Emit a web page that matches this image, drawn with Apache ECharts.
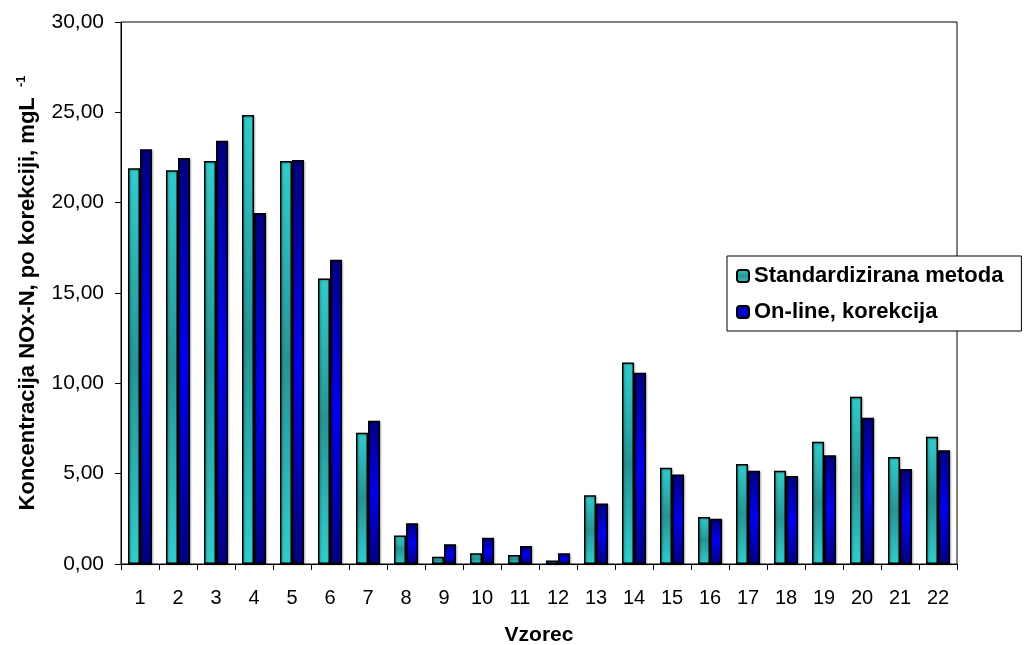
<!DOCTYPE html>
<html>
<head>
<meta charset="utf-8">
<script src="https://cdn.jsdelivr.net/npm/echarts@6/dist/echarts.min.js"></script>
<style>
  html, body { margin: 0; padding: 0; background: #fff; }
  #chart { width: 1024px; height: 645px; }
</style>
</head>
<body>
<div id="chart"></div>
<script>
// Sample numbers (Vzorec)
const categories = ['1','2','3','4','5','6','7','8','9','10','11','12','13','14','15','16','17','18','19','20','21','22'];

// NOx-N concentration, mg/L
const standardizirana = [21.9, 21.8, 22.3, 24.85, 22.3, 15.8, 7.27, 1.58, 0.4, 0.6, 0.5, 0.2, 3.8, 11.15, 5.33, 2.6, 5.53, 5.16, 6.77, 9.26, 5.92, 7.04];
const onlineKorekcija = [22.95, 22.47, 23.43, 19.43, 22.36, 16.84, 7.93, 2.26, 1.1, 1.45, 1.0, 0.6, 3.35, 10.59, 4.96, 2.51, 5.16, 4.87, 6.02, 8.1, 5.26, 6.29];

const seriesNames = ['Standardizirana metoda', 'On-line, korekcija'];

const FONT = '"Liberation Sans", Arial, sans-serif';

// light edges, darker centre
function centreGradient(edge, centre) {
  return new echarts.graphic.LinearGradient(0, 0, 0, 1, [
    { offset: 0, color: edge },
    { offset: 0.5, color: centre },
    { offset: 1, color: edge }
  ]);
}

const chart = echarts.init(document.getElementById('chart'), null, { renderer: 'canvas' });

const barStyle = {
  borderColor: '#000',
  borderWidth: 1.5,
  shadowColor: 'rgba(0,0,0,0.3)',
  shadowBlur: 2,
  shadowOffsetX: 1,
  shadowOffsetY: 1
};

chart.setOption({
  backgroundColor: '#fff',
  animation: false,
  grid: {
    left: 121,
    right: 67,
    top: 22,
    bottom: 81,
    containLabel: false,
    outerBoundsMode: 'none',
    show: true,
    borderColor: '#000',
    borderWidth: 1,
    backgroundColor: 'transparent'
  },
  legend: {
    orient: 'vertical',
    left: 727,
    top: 256,
    itemWidth: 12,
    itemHeight: 12,
    itemGap: 14,
    padding: [9, 18, 8, 9],
    backgroundColor: '#fff',
    borderColor: '#000',
    borderWidth: 1,
    z: 10,
    textStyle: { fontFamily: FONT, fontSize: 22, fontWeight: 'bold', color: '#000' },
    data: seriesNames
  },
  xAxis: {
    type: 'category',
    data: categories,
    boundaryGap: true,
    name: 'Vzorec',
    nameLocation: 'middle',
    nameGap: 61,
    nameTextStyle: { fontFamily: FONT, fontSize: 21, fontWeight: 'bold', color: '#000' },
    axisLine: { lineStyle: { color: '#000', width: 1 } },
    axisTick: { show: true, inside: false, length: 6, lineStyle: { color: '#000' } },
    axisLabel: { fontFamily: FONT, fontSize: 20, color: '#000', margin: 24 },
    splitLine: { show: false }
  },
  yAxis: {
    type: 'value',
    min: 0,
    max: 30,
    interval: 5,
    name: 'Koncentracija NOx-N, po korekciji, mgL {sup|-1}',
    nameLocation: 'middle',
    nameGap: 81,
    nameTextStyle: {
      fontFamily: FONT, fontSize: 22, fontWeight: 'bold', color: '#000',
      rich: {
        sup: { fontFamily: FONT, fontSize: 13, fontWeight: 'bold', color: '#000', padding: [0, 0, 12, 4] }
      }
    },
    axisLine: { show: true, lineStyle: { color: '#000', width: 1 } },
    axisTick: { show: true, inside: false, length: 6, lineStyle: { color: '#000' } },
    axisLabel: {
      fontFamily: FONT, fontSize: 21, color: '#000', margin: 17,
      formatter: v => v.toFixed(2).replace('.', ',')
    },
    splitLine: { show: false }
  },
  series: [
    {
      name: seriesNames[0],
      type: 'bar',
      data: standardizirana,
      barWidth: 12,
      barGap: '0%',
      itemStyle: Object.assign({ color: centreGradient('#33cccc', '#279494') }, barStyle)
    },
    {
      name: seriesNames[1],
      type: 'bar',
      data: onlineKorekcija,
      barWidth: 12,
      barGap: '0%',
      itemStyle: Object.assign({ color: centreGradient('#000080', '#0000f0') }, barStyle)
    }
  ]
});
</script>
</body>
</html>
